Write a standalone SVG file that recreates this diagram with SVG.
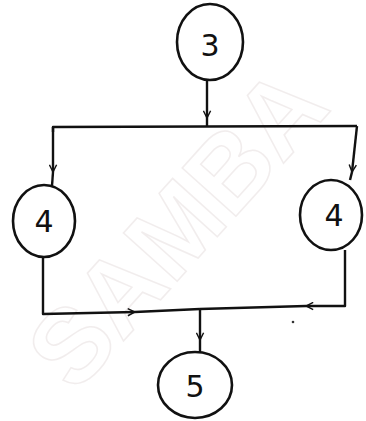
<svg xmlns="http://www.w3.org/2000/svg" width="366" height="421" viewBox="0 0 366 421">
<style>
.node ellipse{fill:none;stroke:#111;stroke-width:2.6}
.node text{font-family:"DejaVu Sans",sans-serif;font-size:30px;fill:#111;text-anchor:middle;dominant-baseline:central}
.edge{fill:none;stroke:#111;stroke-width:2.4;stroke-linejoin:round}
.wm{font-family:"Liberation Sans",sans-serif;font-size:105px;font-weight:bold;fill:none;stroke:#e2d8d8;stroke-width:1.5;opacity:0.45}
</style>
<defs>
<marker id="arr" viewBox="0 0 10 10" refX="9" refY="5" markerWidth="9" markerHeight="9" orient="auto" markerUnits="userSpaceOnUse">
<path d="M1,1 L9,5 L1,9" fill="none" stroke="#111" stroke-width="1.6"/>
</marker>
</defs>
<rect width="366" height="421" fill="#fff"/>
<text class="wm" x="0" y="0" transform="translate(75,395) rotate(-48)">SAMBA</text>
<g id="connectors">
<path class="edge" d="M207,80 L207,118" marker-end="url(#arr)"/>
<path class="edge" d="M207,118 L207,127"/>
<path class="edge" d="M53,132 L53,127 L357,126"/>
<path class="edge" d="M53,127 L53,172" marker-end="url(#arr)"/>
<path class="edge" d="M53,172 L52,186"/>
<path class="edge" d="M357,126 L352,172" marker-end="url(#arr)"/>
<path class="edge" d="M352,172 L350,180"/>
<path class="edge" d="M43,257 L43,314 L135,312" marker-end="url(#arr)"/>
<path class="edge" d="M135,312 L200,309"/>
<path class="edge" d="M345,250 L345,306 L306,306" marker-end="url(#arr)"/>
<path class="edge" d="M306,306 L200,309"/>
<path class="edge" d="M200,309 L200,340" marker-end="url(#arr)"/>
<path class="edge" d="M200,340 L200,352"/>
<circle cx="293" cy="322" r="1.3" fill="#333"/>
</g>
<g id="node3" class="node">
<ellipse cx="210" cy="42" rx="33" ry="38"/>
<text x="210" y="45">3</text>
</g>
<g id="node4a" class="node">
<ellipse cx="44" cy="221" rx="31" ry="36"/>
<text x="44" y="221">4</text>
</g>
<g id="node4b" class="node">
<ellipse cx="331" cy="215" rx="31" ry="35"/>
<text x="334" y="215">4</text>
</g>
<g id="node5" class="node">
<ellipse cx="195" cy="385" rx="37" ry="33"/>
<text x="195" y="386">5</text>
</g>
</svg>
